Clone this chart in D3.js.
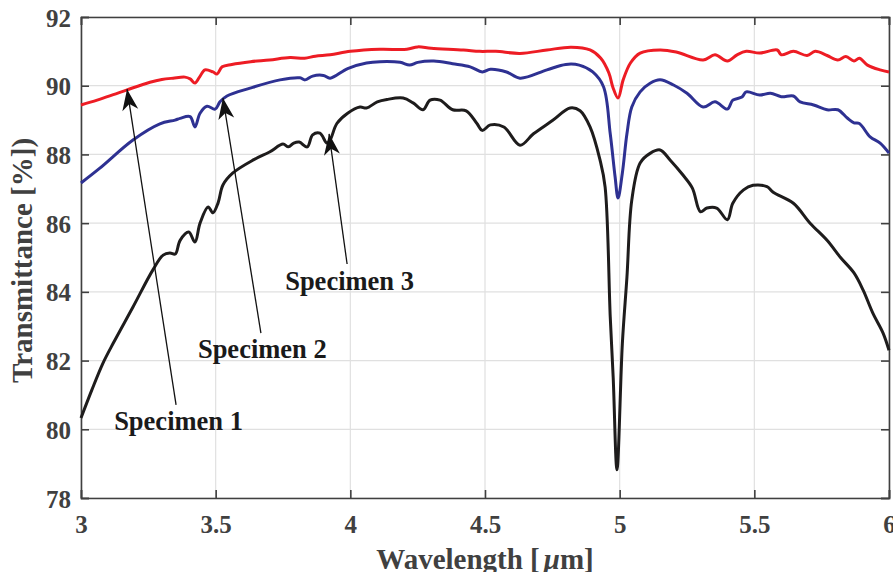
<!DOCTYPE html>
<html>
<head>
<meta charset="utf-8">
<script src="https://cdn.jsdelivr.net/npm/d3@7/dist/d3.min.js"></script>
<style>
  body { margin: 0; background: #fff; }
  text { font-family: "Liberation Serif", "Times New Roman", serif; font-weight: bold; }
</style>
</head>
<body>
<div id="chartDiv"></div>
<script>
// tick values
const xTicks = [3, 3.5, 4, 4.5, 5, 5.5, 6];
const yTicks = [78, 80, 82, 84, 86, 88, 90, 92];

// Specimen 1 (red)
const wl1 = [3.00, 3.06, 3.12, 3.171, 3.256, 3.30, 3.342, 3.386, 3.405, 3.423, 3.44, 3.46, 3.49, 3.505, 3.524, 3.56, 3.63, 3.70, 3.776, 3.83, 3.87, 3.925, 4.00, 4.11, 4.21, 4.25, 4.30, 4.42, 4.48, 4.54, 4.63, 4.73, 4.82, 4.89, 4.93, 4.96, 4.975, 4.994, 5.013, 5.04, 5.076, 5.15, 5.21, 5.31, 5.354, 5.40, 5.436, 5.47, 5.52, 5.585, 5.60, 5.645, 5.696, 5.726, 5.77, 5.81, 5.84, 5.87, 5.89, 5.92, 5.967, 6.00];
const tr1 = [89.44, 89.58, 89.74, 89.88, 90.10, 90.18, 90.22, 90.25, 90.20, 90.08, 90.25, 90.46, 90.40, 90.34, 90.55, 90.62, 90.70, 90.75, 90.82, 90.80, 90.86, 90.90, 91.00, 91.06, 91.06, 91.13, 91.09, 91.04, 91.00, 91.00, 90.94, 91.04, 91.12, 91.04, 90.80, 90.37, 89.95, 89.64, 90.17, 90.66, 90.95, 91.04, 90.98, 90.75, 90.90, 90.72, 90.90, 91.00, 90.95, 91.04, 90.90, 91.00, 90.88, 91.00, 90.88, 90.75, 90.85, 90.72, 90.80, 90.60, 90.46, 90.40];

// Specimen 2 (blue)
const wl2 = [3.00, 3.07, 3.193, 3.293, 3.349, 3.368, 3.405, 3.423, 3.442, 3.468, 3.498, 3.516, 3.542, 3.628, 3.739, 3.813, 3.832, 3.86, 3.90, 3.925, 3.99, 4.06, 4.11, 4.185, 4.22, 4.25, 4.31, 4.38, 4.445, 4.49, 4.52, 4.58, 4.63, 4.73, 4.80, 4.85, 4.90, 4.94, 4.965, 4.983, 4.994, 5.01, 5.027, 5.045, 5.076, 5.113, 5.15, 5.20, 5.25, 5.31, 5.354, 5.40, 5.42, 5.454, 5.47, 5.52, 5.56, 5.60, 5.645, 5.67, 5.72, 5.77, 5.81, 5.845, 5.87, 5.89, 5.93, 5.967, 6.00];
const tr2 = [87.17, 87.60, 88.42, 88.89, 89.00, 89.05, 89.10, 88.80, 89.20, 89.40, 89.32, 89.53, 89.70, 89.93, 90.17, 90.23, 90.17, 90.28, 90.30, 90.22, 90.50, 90.66, 90.70, 90.68, 90.60, 90.68, 90.72, 90.64, 90.55, 90.40, 90.48, 90.40, 90.22, 90.46, 90.62, 90.60, 90.40, 89.97, 88.60, 87.35, 86.73, 87.46, 88.60, 89.38, 89.82, 90.07, 90.17, 90.02, 89.78, 89.38, 89.53, 89.32, 89.58, 89.67, 89.82, 89.73, 89.78, 89.68, 89.70, 89.53, 89.44, 89.30, 89.30, 89.06, 88.92, 88.90, 88.51, 88.33, 88.04];

// Specimen 3 (black)
const wl3 = [3.00, 3.04, 3.08, 3.12, 3.193, 3.267, 3.305, 3.33, 3.35, 3.368, 3.40, 3.423, 3.442, 3.472, 3.49, 3.509, 3.527, 3.564, 3.64, 3.70, 3.75, 3.77, 3.79, 3.81, 3.84, 3.86, 3.887, 3.913, 3.925, 3.95, 3.99, 4.036, 4.06, 4.10, 4.136, 4.196, 4.233, 4.27, 4.296, 4.333, 4.38, 4.43, 4.47, 4.49, 4.52, 4.57, 4.63, 4.68, 4.753, 4.816, 4.853, 4.89, 4.927, 4.946, 4.965, 4.976, 4.99, 5.01, 5.027, 5.045, 5.076, 5.113, 5.15, 5.187, 5.235, 5.27, 5.30, 5.324, 5.36, 5.40, 5.42, 5.46, 5.495, 5.547, 5.57, 5.645, 5.707, 5.77, 5.82, 5.87, 5.904, 5.94, 5.978, 6.00];
const tr3 = [80.33, 81.14, 81.90, 82.51, 83.56, 84.64, 85.07, 85.13, 85.10, 85.50, 85.74, 85.45, 86.00, 86.47, 86.30, 86.59, 87.11, 87.46, 87.84, 88.07, 88.30, 88.22, 88.33, 88.36, 88.22, 88.57, 88.62, 88.33, 88.42, 88.90, 89.20, 89.38, 89.35, 89.53, 89.60, 89.64, 89.50, 89.30, 89.58, 89.58, 89.30, 89.27, 88.90, 88.70, 88.86, 88.80, 88.27, 88.60, 89.00, 89.35, 89.27, 88.80, 87.84, 87.05, 83.27, 81.50, 78.82, 82.50, 84.43, 86.67, 87.75, 88.03, 88.13, 87.84, 87.40, 87.02, 86.33, 86.44, 86.44, 86.10, 86.58, 86.97, 87.10, 87.06, 86.90, 86.58, 86.00, 85.50, 85.00, 84.55, 84.05, 83.38, 82.80, 82.30];

// annotation labels, text anchor, arrow tail and arrow tip (data units)
const labels = ["Specimen 1", "Specimen 2", "Specimen 3"];
const labelAt = [[3.123, 79.98], [3.434, 82.08], [3.758, 84.05]];
const arrowFrom = [[3.353, 80.71], [3.668, 82.80], [3.988, 84.81]];
const arrowTo = [[3.171, 89.90], [3.527, 89.64], [3.921, 88.60]];

const W = 893, H = 572;
const margin = {top: 17, right: 4, bottom: 74, left: 81};
const width = W - margin.left - margin.right,
      height = H - margin.top - margin.bottom;

const svg = d3.select("#chartDiv").append("svg")
    .attr("width", W)
    .attr("height", H);
const g = svg.append("g")
    .attr("transform", "translate(" + margin.left + "," + margin.top + ")");

const x = d3.scaleLinear().domain([3, 6]).range([0, width]);
const y = d3.scaleLinear().domain([78, 92]).range([height, 0]);

const axisCol = "#404040";

// grid
g.append("g").selectAll("line").data(xTicks).enter().append("line")
    .attr("x1", d => x(d)).attr("x2", d => x(d))
    .attr("y1", 0).attr("y2", height)
    .attr("stroke", "#e0e0e0").attr("stroke-width", 1.2);
g.append("g").selectAll("line").data(yTicks).enter().append("line")
    .attr("y1", d => y(d)).attr("y2", d => y(d))
    .attr("x1", 0).attr("x2", width)
    .attr("stroke", "#e0e0e0").attr("stroke-width", 1.2);

// axes, ticks pointing in, box on
const fmt = d3.format("");
const ax = [
  {a: d3.axisBottom(x).tickValues(xTicks).tickSize(-8).tickFormat(fmt), t: "translate(0," + height + ")", lab: true},
  {a: d3.axisTop(x).tickValues(xTicks).tickSize(-8).tickFormat(""), t: "translate(0,0)", lab: false},
  {a: d3.axisLeft(y).tickValues(yTicks).tickSize(-8).tickFormat(fmt), t: "translate(0,0)", lab: true},
  {a: d3.axisRight(y).tickValues(yTicks).tickSize(-8).tickFormat(""), t: "translate(" + width + ",0)", lab: false}
];
ax.forEach((o, i) => {
  const gg = g.append("g").attr("transform", o.t).call(o.a);
  gg.select(".domain").attr("stroke", axisCol).attr("stroke-width", 1.6);
  gg.selectAll(".tick line").attr("stroke", axisCol).attr("stroke-width", 1.6);
  gg.selectAll(".tick text")
    .attr("fill", axisCol)
    .style("font-size", "25px")
    .style("font-family", "'Liberation Serif', serif")
    .style("font-weight", "bold");
  if (i === 0) gg.selectAll(".tick text").attr("y", 22).attr("dy", "0.71em").attr("dy", null).attr("y", 35);
  if (i === 2) gg.selectAll(".tick text").attr("x", -10).attr("dy", null).attr("y", 9);
});

// curves
const line = d3.line()
    .x(d => x(d[0]))
    .y(d => y(d[1]))
    .curve(d3.curveCatmullRom.alpha(0.5));

const series = [
  {wl: wl1, tr: tr1, col: "#ed1c24"},
  {wl: wl2, tr: tr2, col: "#2e3192"},
  {wl: wl3, tr: tr3, col: "#1e1c1c"}
];
series.forEach(s => {
  g.append("path")
    .datum(d3.zip(s.wl, s.tr))
    .attr("fill", "none")
    .attr("stroke", s.col)
    .attr("stroke-width", 3)
    .attr("stroke-linejoin", "round")
    .attr("d", line);
});

// annotation arrows
labels.forEach((lab, i) => {
  const x0 = x(arrowFrom[i][0]), y0 = y(arrowFrom[i][1]);
  const x1 = x(arrowTo[i][0]), y1 = y(arrowTo[i][1]);
  const ang = Math.atan2(y1 - y0, x1 - x0) * 180 / Math.PI;
  g.append("line")
    .attr("x1", x0).attr("y1", y0)
    .attr("x2", x1).attr("y2", y1)
    .attr("stroke", "#111").attr("stroke-width", 1.3);
  // arrowhead, tip at origin pointing along +x
  g.append("path")
    .attr("d", "M0,0 L-21,-8 L-15,0 L-21,8 Z")
    .attr("fill", "#111")
    .attr("transform", "translate(" + x1 + "," + y1 + ") rotate(" + ang + ")");
  g.append("text")
    .attr("x", x(labelAt[i][0]))
    .attr("y", y(labelAt[i][1]))
    .attr("fill", "#1a1a1a")
    .style("font-size", "26.5px")
    .text(lab);
});

// axis labels
const xl = svg.append("text")
    .attr("x", margin.left + width / 2)
    .attr("y", 569)
    .attr("text-anchor", "middle")
    .attr("fill", axisCol)
    .style("font-size", "29px");
xl.append("tspan").text("Wavelength [");
xl.append("tspan").attr("dx", 4).style("font-style", "italic").text("μ");
xl.append("tspan").text("m]");

svg.append("text")
    .attr("transform", "translate(32," + (margin.top + height / 2 + 3) + ") rotate(-90)")
    .attr("text-anchor", "middle")
    .attr("fill", axisCol)
    .style("font-size", "29px")
    .text("Transmittance [%])");
</script>
</body>
</html>
